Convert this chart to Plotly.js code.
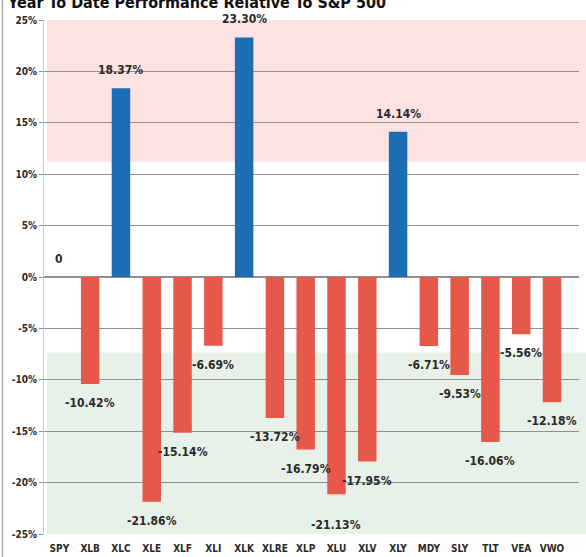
<!DOCTYPE html>
<html><head><meta charset="utf-8">
<script src="https://cdn.plot.ly/plotly-3.0.1.min.js"></script>
<style>html,body{margin:0;padding:0;background:#fff;overflow:hidden}</style>
</head><body><div id="chart" style="width:586px;height:557px"></div>
<script>
const tickers = ['SPY','XLB','XLC','XLE','XLF','XLI','XLK','XLRE','XLP','XLU','XLV','XLY','MDY','SLY','TLT','VEA','VWO'];
const values = [0, -10.42, 18.37, -21.86, -15.14, -6.69, 23.30, -13.72, -16.79, -21.13, -17.95, 14.14, -6.71, -9.53, -16.06, -5.56, -12.18];
const yTickVals = [25, 20, 15, 10, 5, 0, -5, -10, -15, -20, -25];
const yTickText = ['25%','20%','15%','10%','5%','0%','-5%','-10%','-15%','-20%','-25%'];
const titleText = 'Year To Date Performance Relative To S&P 500';
const redBand = [11.2, 25];
const greenBand = [-25, -7.35];

const FONT = "'Liberation Sans Narrow', 'Arial Narrow', 'DejaVu Sans Condensed', sans-serif";
const BLUE = '#1c6db4';
const RED = '#e5584a';
const W = 586, H = 557, L = 44, R = 7, T = 20, B = 23;
const plotW = W - L - R;

const labels = values.map(v => v === 0 ? '0' : v.toFixed(2) + '%');

const trace = {
  type: 'bar',
  x: tickers,
  y: values,
  marker: { color: values.map(v => v >= 0 ? BLUE : RED), line: { width: 0 } },
  hoverinfo: 'none'
};

const annotations = tickers.map((t, i) => ({
  x: t, y: values[i], xref: 'x', yref: 'y',
  text: labels[i], showarrow: false,
  yanchor: 'middle',
  yshift: values[i] >= 0 ? 18 : (t === 'XLU' ? -31 : -19),
  font: { family: FONT, size: 12, color: '#2a2a2a', weight: 'bold' }
}));
annotations.push({
  xref: 'paper', yref: 'paper', x: (5 - L) / plotW, y: 1,
  xanchor: 'left', yanchor: 'middle', yshift: 18,
  text: titleText, showarrow: false,
  font: { family: FONT, size: 16, color: '#111', weight: 'bold' }
});

const shapes = [
  { type: 'rect', xref: 'paper', yref: 'y', x0: 3 / plotW, x1: 1 + R / plotW, y0: redBand[0], y1: redBand[1],
    fillcolor: '#fde2e2', line: { width: 0 }, layer: 'below' },
  { type: 'rect', xref: 'paper', yref: 'y', x0: 3 / plotW, x1: 1 + R / plotW, y0: greenBand[0], y1: greenBand[1],
    fillcolor: '#e7f1e9', line: { width: 0 }, layer: 'below' },
  { type: 'line', xref: 'paper', yref: 'paper', x0: (2.5 - L) / plotW, x1: (2.5 - L) / plotW, y0: -B / (H - T - B), y1: 1 + T / (H - T - B),
    line: { color: '#b0b0b0', width: 1.5 } }
];

const layout = {
  width: W, height: H,
  margin: { l: L, r: R, t: T, b: B, pad: 0 },
  paper_bgcolor: '#fff', plot_bgcolor: 'rgba(0,0,0,0)',
  showlegend: false,
  bargap: 0.4,
  xaxis: {
    type: 'category',
    showgrid: false, zeroline: false, showline: false,
    ticks: 'outside', ticklen: 5, tickcolor: 'rgba(0,0,0,0)',
    tickfont: { family: FONT, size: 10, color: '#2a2a2a', weight: 'bold' },
    fixedrange: true
  },
  yaxis: {
    range: [-25, 25],
    tickvals: yTickVals, ticktext: yTickText,
    showgrid: true, gridcolor: '#8f8f8f', gridwidth: 1.3,
    zeroline: true, zerolinecolor: '#8f8f8f', zerolinewidth: 1.3,
    showline: true, linecolor: '#c8c8c8', linewidth: 1,
    ticks: 'outside', ticklen: 4, tickcolor: '#8f8f8f',
    tickfont: { family: FONT, size: 10, color: '#2a2a2a', weight: 'bold' },
    fixedrange: true
  },
  shapes: shapes,
  annotations: annotations
};

Plotly.newPlot('chart', [trace], layout, { displayModeBar: false, staticPlot: true });
</script>
</body></html>
